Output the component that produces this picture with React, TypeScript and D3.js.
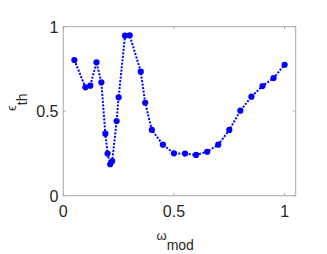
import React from "react";
import * as d3 from "d3";

const omega = [0.05, 0.1, 0.122, 0.15, 0.172, 0.19, 0.2, 0.212, 0.221, 0.241, 0.25, 0.279, 0.3, 0.35, 0.37, 0.4, 0.45, 0.5, 0.55, 0.6, 0.65, 0.7, 0.75, 0.8, 0.85, 0.9, 0.95, 1.0];
const eps = [0.803, 0.641, 0.651, 0.789, 0.671, 0.367, 0.249, 0.186, 0.205, 0.442, 0.582, 0.947, 0.949, 0.734, 0.55, 0.389, 0.302, 0.251, 0.249, 0.241, 0.26, 0.302, 0.389, 0.503, 0.586, 0.649, 0.696, 0.775];
const xTicks = [0, 0.5, 1];
const yTicks = [0, 0.5, 1];
const xTickLabels = ["0", "0.5", "1"];
const yTickLabels = ["0", "0.5", "1"];

export default function App() {
  const W = 327, H = 254;
  const left = 63.3, right = 295.7, top = 26.7, bottom = 195.7;
  const x = d3.scaleLinear().domain([0, 1.05]).range([left, right]);
  const y = d3.scaleLinear().domain([0, 1]).range([bottom, top]);
  const pts = omega.map((o, i) => [o, eps[i]] as [number, number]);
  const line = d3.line<[number, number]>().x(d => x(d[0])).y(d => y(d[1]))(pts) || "";
  const axisColor = "#a8a8a8";
  const textColor = "#262626";
  const font = "'Liberation Sans', Arial, Helvetica, sans-serif";
  const tl = 2.5;
  return (
    <svg width={W} height={H} style={{ position: "absolute", left: 0, top: 0, background: "#fff" }} fontFamily={font}>
      <rect x={left} y={top} width={right - left} height={bottom - top} fill="#fff" stroke={axisColor} strokeWidth={1} />
      {xTicks.map(t => (
        <g key={"x" + t}>
          <line x1={x(t)} x2={x(t)} y1={bottom} y2={bottom - tl} stroke={axisColor} />
          <line x1={x(t)} x2={x(t)} y1={top} y2={top + tl} stroke={axisColor} />
        </g>
      ))}
      {yTicks.map(t => (
        <g key={"y" + t}>
          <line x1={left} x2={left + tl} y1={y(t)} y2={y(t)} stroke={axisColor} />
          <line x1={right} x2={right - tl} y1={y(t)} y2={y(t)} stroke={axisColor} />
        </g>
      ))}
      {xTicks.map((t, i) => (
        <text key={"xl" + t} x={x(t)} y={216.5} textAnchor="middle" fontSize={16} fill={textColor}>{xTickLabels[i]}</text>
      ))}
      {yTicks.map((t, i) => (
        <text key={"yl" + t} x={58.5} y={y(t) + 6} textAnchor="end" fontSize={16} fill={textColor}>{yTickLabels[i]}</text>
      ))}
      <path d={line} fill="none" stroke="#0000ff" strokeWidth={2} strokeDasharray="2 1.5" />
      {pts.map((p, i) => (
        <circle key={i} cx={x(p[0])} cy={y(p[1])} r={3.1} fill="#0000ff" />
      ))}
      <text x={156.5} y={240} fontSize={13} fill={textColor}>
        <tspan>ω</tspan>
        <tspan dy={9.5} fontSize={14}>mod</tspan>
      </text>
      <text transform="translate(15.5,111) rotate(-90)" fontSize={13} fill={textColor}>
        <tspan>ϵ</tspan>
        <tspan dy={11} fontSize={14}>th</tspan>
      </text>
    </svg>
  );
}
